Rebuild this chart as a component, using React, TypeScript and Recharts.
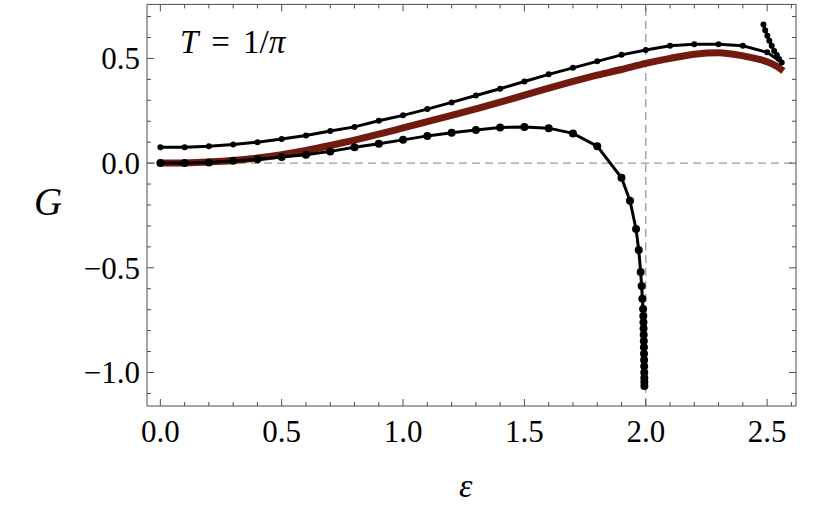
import React from 'react';
import { LineChart, Line, XAxis, YAxis, ReferenceLine } from 'recharts';

// ---- data ----
const epsUpper = [0, 0.1, 0.2, 0.3, 0.4, 0.5, 0.6, 0.7, 0.8, 0.9, 1.0, 1.1, 1.2, 1.3, 1.4, 1.5, 1.6, 1.7, 1.8, 1.9, 2.0, 2.1, 2.2, 2.3, 2.4, 2.5, 2.56, 2.549, 2.54, 2.529, 2.519, 2.509, 2.501, 2.492, 2.485];
const gUpper = [0.076, 0.076, 0.081, 0.089, 0.1, 0.115, 0.132, 0.153, 0.173, 0.202, 0.228, 0.258, 0.29, 0.323, 0.355, 0.39, 0.424, 0.455, 0.486, 0.517, 0.54, 0.56, 0.568, 0.568, 0.56, 0.529, 0.481, 0.497, 0.516, 0.536, 0.56, 0.584, 0.608, 0.635, 0.662];

const epsLower = [0, 0.1, 0.2, 0.3, 0.4, 0.5, 0.6, 0.7, 0.8, 0.9, 1.0, 1.1, 1.2, 1.3, 1.4, 1.5, 1.6, 1.7, 1.8, 1.9, 1.935, 1.96, 1.971, 1.979, 1.983, 1.986, 1.989, 1.9898, 1.9905, 1.991, 1.9915, 1.992, 1.9924, 1.9928, 1.9932, 1.9935, 1.9938, 1.994, 1.9942, 1.9944];
const gLower = [0, 0, 0.003, 0.011, 0.018, 0.029, 0.04, 0.056, 0.076, 0.092, 0.111, 0.13, 0.145, 0.158, 0.17, 0.173, 0.167, 0.142, 0.081, -0.07, -0.18, -0.315, -0.415, -0.52, -0.587, -0.648, -0.697, -0.73, -0.76, -0.79, -0.82, -0.85, -0.88, -0.91, -0.94, -0.97, -1.0, -1.025, -1.045, -1.065];

const epsRed = [0, 0.1, 0.2, 0.3, 0.4, 0.5, 0.6, 0.7, 0.8, 0.9, 1.0, 1.1, 1.2, 1.3, 1.4, 1.5, 1.6, 1.7, 1.8, 1.9, 2.0, 2.1, 2.2, 2.3, 2.4, 2.45, 2.5, 2.54, 2.567];
const gRed = [0, 0.001, 0.005, 0.012, 0.024, 0.04, 0.06, 0.084, 0.11, 0.138, 0.168, 0.198, 0.228, 0.259, 0.291, 0.325, 0.358, 0.39, 0.42, 0.447, 0.476, 0.5, 0.52, 0.527, 0.512, 0.5, 0.484, 0.462, 0.44];

const xTicks = [0, 0.1, 0.2, 0.3, 0.4, 0.5, 0.6, 0.7, 0.8, 0.9, 1.0, 1.1, 1.2, 1.3, 1.4, 1.5, 1.6, 1.7, 1.8, 1.9, 2.0, 2.1, 2.2, 2.3, 2.4, 2.5, 2.6];
const yTicks = [-1.1, -1.0, -0.9, -0.8, -0.7, -0.6, -0.5, -0.4, -0.3, -0.2, -0.1, 0, 0.1, 0.2, 0.3, 0.4, 0.5, 0.6, 0.7];
const xDomain = [-0.055, 2.619];
const yDomain = [-1.16, 0.758];

const toPoints = (xs: number[], ys: number[]) => xs.map((x, i) => ({ x, g: ys[i] }));
const upperData = toPoints(epsUpper, gUpper);
const lowerData = toPoints(epsLower, gLower);
const redData = toPoints(epsRed, gRed);

const FONT = 'Liberation Serif';
const FRAME = '#4d4d4d';
const isMajor = (v: number) => Math.abs(v * 2 - Math.round(v * 2)) < 1e-6;
const fmt = (v: number) => (v < 0 ? '\u2212' : '') + Math.abs(v).toFixed(1);
const textStyle = { fontFamily: "'Liberation Serif', serif" };

const makeTick = (side: 'bottom' | 'top' | 'left' | 'right') => (props: any) => {
  const { x, y, payload } = props;
  const v = payload.value as number;
  const len = isMajor(v) ? 7 : 4;
  let line;
  if (side === 'bottom') line = <line x1={x} x2={x} y1={y} y2={y - len} stroke={FRAME} strokeWidth={1} />;
  else if (side === 'top') line = <line x1={x} x2={x} y1={y} y2={y + len} stroke={FRAME} strokeWidth={1} />;
  else if (side === 'left') line = <line x1={x} x2={x + len} y1={y} y2={y} stroke={FRAME} strokeWidth={1} />;
  else line = <line x1={x} x2={x - len} y1={y} y2={y} stroke={FRAME} strokeWidth={1} />;
  let label = null;
  if (isMajor(v) && side === 'bottom') {
    label = (
      <text x={x} y={y + 36} textAnchor="middle" style={textStyle} fontFamily={FONT} fontSize={31} fill="#000">
        {fmt(v)}
      </text>
    );
  } else if (isMajor(v) && side === 'left') {
    label = (
      <text x={x - 7} y={y + 11} textAnchor="end" style={textStyle} fontFamily={FONT} fontSize={31} fill="#000">
        {fmt(v)}
      </text>
    );
  }
  return (
    <g>
      {line}
      {label}
    </g>
  );
};

export default function App() {
  return (
    <div style={{ position: 'absolute', left: 0, top: 0, width: 830, height: 523, background: '#fff' }}>
      <LineChart
        width={830}
        height={523}
        margin={{ top: 0, right: 24, bottom: 87, left: 87 }}
      >
        <XAxis xAxisId="b" dataKey="x" type="number" domain={xDomain} allowDataOverflow ticks={xTicks}
          height={30} tickSize={0} tickMargin={0} tickLine={false} axisLine={{ stroke: FRAME, strokeWidth: 1 }}
          tick={makeTick('bottom')} interval={0} />
        <XAxis xAxisId="t" orientation="top" dataKey="x" type="number" domain={xDomain} allowDataOverflow ticks={xTicks}
          height={4.4} tickSize={0} tickMargin={0} tickLine={false} axisLine={{ stroke: FRAME, strokeWidth: 1 }}
          tick={makeTick('top')} interval={0} />
        <YAxis yAxisId="l" dataKey="g" type="number" domain={yDomain} allowDataOverflow ticks={yTicks}
          width={60} tickSize={0} tickMargin={0} tickLine={false} axisLine={{ stroke: FRAME, strokeWidth: 1 }}
          tick={makeTick('left')} interval={0} />
        <YAxis yAxisId="r" orientation="right" dataKey="g" type="number" domain={yDomain} allowDataOverflow ticks={yTicks}
          width={10} tickSize={0} tickMargin={0} tickLine={false} axisLine={{ stroke: FRAME, strokeWidth: 1 }}
          tick={makeTick('right')} interval={0} />

        <ReferenceLine xAxisId="b" yAxisId="l" y={0} stroke="#9a9a9a" strokeWidth={1.3} strokeDasharray="8 5" />
        <ReferenceLine xAxisId="b" yAxisId="l" x={2} stroke="#9a9a9a" strokeWidth={1.3} strokeDasharray="8 5" />

        <Line xAxisId="b" yAxisId="l" data={redData} dataKey="g" type="monotone" stroke="#731a10"
          strokeWidth={7} dot={false} isAnimationActive={false} />
        <Line xAxisId="b" yAxisId="l" data={upperData} dataKey="g" type="linear" stroke="#000"
          strokeWidth={3} dot={{ r: 3, fill: '#000', stroke: 'none' }} isAnimationActive={false} />
        <Line xAxisId="b" yAxisId="l" data={lowerData} dataKey="g" type="linear" stroke="#000"
          strokeWidth={3} dot={{ r: 4, fill: '#000', stroke: 'none' }} isAnimationActive={false} />
      </LineChart>
      <svg width={830} height={523} style={{ position: 'absolute', left: 0, top: 0, pointerEvents: 'none' }}>
        <text x={180} y={53} style={textStyle} fontSize={33} fill="#000">
          <tspan fontStyle="italic">T</tspan>
          <tspan dx={13}>=</tspan>
          <tspan dx={13}>1/</tspan>
          <tspan fontStyle="italic">π</tspan>
        </text>
        <text x={34} y={215} style={textStyle} fontSize={39} fontStyle="italic" fill="#000">G</text>
        <text x={459} y={497} style={textStyle} fontSize={34} fontStyle="italic" fill="#000">ε</text>
      </svg>
    </div>
  );
}
